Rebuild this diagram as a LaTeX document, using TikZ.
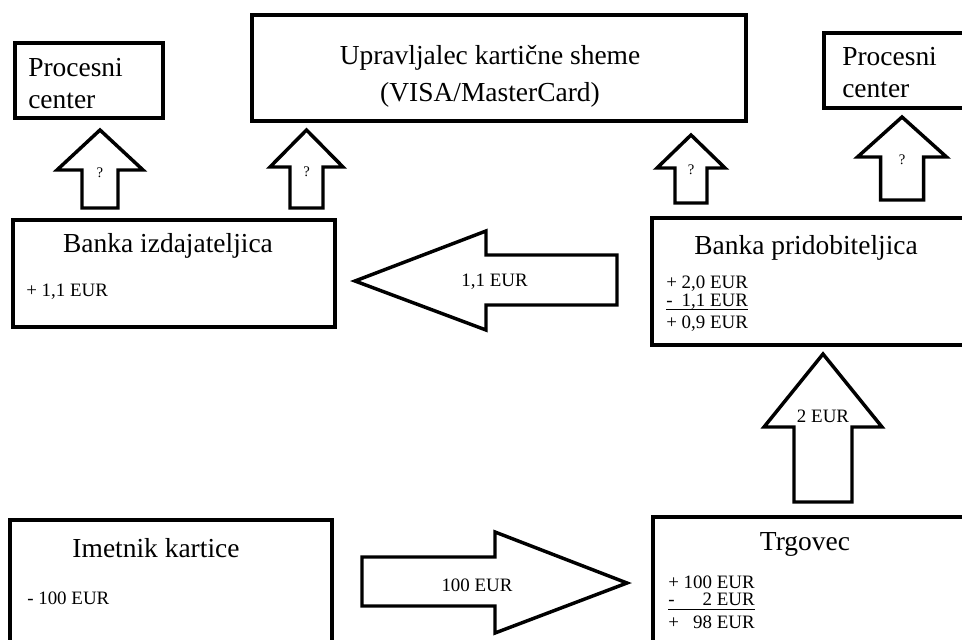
\documentclass[tikz,border=0pt]{standalone}
\usepackage{fontspec}
\setmainfont{Liberation Serif}
\usepackage{tikz}
\usetikzlibrary{positioning,fit}

\setlength{\arrayrulewidth}{0.75pt}
\newcommand{\vpr}{\fontsize{11}{13}\selectfont}
% puscica navzgor: ime, x, pol debla, pol glave, dno, osnova glave, konica, y oznake, oznaka
\newcommand{\puscicagor}[9]{%
	\draw[puscica] (#2-#3,#5) -- (#2-#3,#6) -- (#2-#4,#6) -- (#2,#7)
		-- (#2+#4,#6) -- (#2+#3,#6) -- (#2+#3,#5) -- cycle;
	\node[oznaka] (#1) at (#2,#8) {#9};
}

\begin{document}
\begin{tikzpicture}[
		x=0.75pt, y=-0.75pt,
		okvir/.style={draw, line width=3pt, inner sep=0pt},
		naslov/.style={font=\fontsize{20.6}{24}\selectfont, inner sep=0pt},
		znesek/.style={font=\fontsize{14.2}{13}\selectfont, inner sep=0pt, anchor=west},
		puscica/.style={draw, line width=2.6pt, line join=miter},
		oznaka/.style={font=\fontsize{14.2}{16}\selectfont, inner sep=0pt}
		]
		
		\clip (0,0) rectangle (962,639);
		
		% zgornja vrsta
		\node[okvir, fit={(15,43) (163,118)}] (procesL) {};
		\node[naslov, align=left, anchor=west] (procesLt) at (28,84) {Procesni\\center};
		
		\node[okvir, fit={(252,15) (746,121)}] (shema) {};
		\node[naslov, font=\fontsize{20.6}{27.8}\selectfont, align=center] (shemat) at (490,76)
			{Upravljalec kartične sheme\\(VISA/MasterCard)};
		
		\node[okvir, fit={(824,33) (975,108)}] (procesD) {};
		\node[naslov, align=left, anchor=west] (procesDt) at (842,73) {Procesni\\center};
		
		% banki
		\node[okvir, fit={(13,220) (335,327)}] (izdaj) {};
		\node[naslov] (izdajt) at (168,246) {Banka izdajateljica};
		\node[znesek] (izdajz) at (26,292) {+ 1,1 EUR};
		
		\node[okvir, fit={(652,218) (975,345)}] (pridob) {};
		\node[naslov] (pridobt) at (806,248) {Banka pridobiteljica};
		\node[znesek] (pridobz) at (666,305) {\begin{tabular}{@{}l@{\ }r@{}}
				+ & 2,0 EUR\\
				- & 1,1 EUR\\[-1.6pt] \hline \noalign{\vskip 4.3pt}
				+ & 0,9 EUR
			\end{tabular}};
		
		% spodnja vrsta
		\node[okvir, fit={(10,520) (332,660)}] (imetnik) {};
		\node[naslov] (imetnikt) at (156,548) {Imetnik kartice};
		\node[znesek] (imetnikz) at (27,598) {- 100 EUR};
		
		\node[okvir, fit={(653,517) (975,660)}] (trgovec) {};
		\node[naslov] (trgovect) at (805,544) {Trgovec};
		\node[znesek] (trgovecz) at (668,604.5) {\begin{tabular}{@{}l@{\ }r@{}}
				+ & 100 EUR\\
				- & 2 EUR\\[-1.6pt] \hline \noalign{\vskip 4.3pt}
				+ & 98 EUR
			\end{tabular}};
		
		% puscice
		\puscicagor{p1}{100}{18}{43}{208}{170}{130}{173}{\vpr ?}
		\puscicagor{p2}{306.5}{16.5}{36.5}{208}{167}{130}{172}{\vpr ?}
		\puscicagor{p3}{691}{16}{34}{203}{168}{135}{170}{\vpr ?}
		\puscicagor{p4}{902}{21.5}{44.5}{200}{157}{117}{160}{\vpr ?}
		\puscicagor{p5}{823}{29}{59}{502}{427}{354}{416}{2 EUR}
		
		\draw[puscica] (617,255) -- (486,255) -- (486,231) -- (355,281)
			-- (486,330) -- (486,305) -- (617,305) -- cycle;
		\node[oznaka] (p6) at (494.5,282) {1,1 EUR};
		
		\draw[puscica] (362,557) -- (495,557) -- (495,532) -- (627,583)
			-- (495,633) -- (495,606) -- (362,606) -- cycle;
		\node[oznaka] (p7) at (477,585) {100 EUR};
		
	\end{tikzpicture}
\end{document}
